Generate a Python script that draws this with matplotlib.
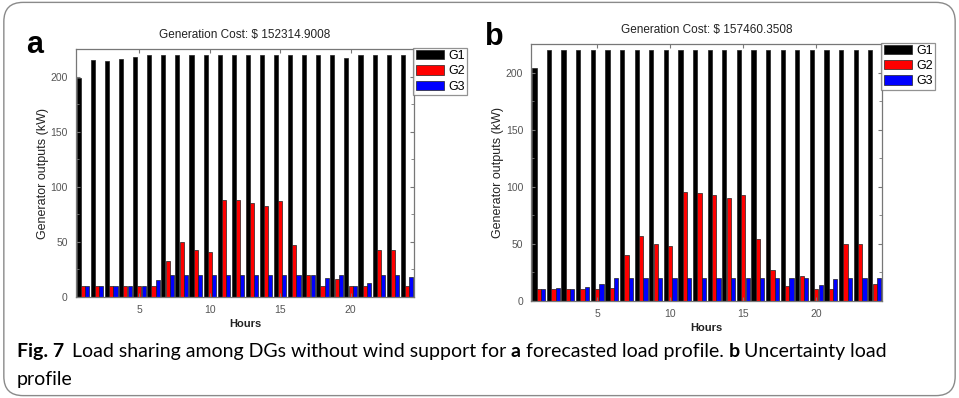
import numpy as np
import matplotlib
matplotlib.use("Agg")
import matplotlib.pyplot as plt
from matplotlib.patches import FancyBboxPatch
from matplotlib.text import Annotation
from matplotlib.ticker import MultipleLocator

hours = np.arange(1, 25)
labels = ["G1", "G2", "G3"]
colors = ["#000000", "#ff0000", "#0000ff"]

# panel a: forecasted load profile
a_g1 = [199, 215, 214, 216, 218, 220, 220, 220, 220, 220, 220, 220,
        220, 220, 220, 220, 220, 220, 220, 217, 220, 220, 220, 220]
a_g2 = [10, 10, 10, 10, 10, 10, 33, 50, 43, 41, 88, 88,
        85.5, 83, 87, 47, 20, 10, 16, 10, 10, 43, 43, 10]
a_g3 = [10, 10, 10, 10, 10, 15, 20, 20, 20, 20, 20, 20,
        20, 20, 20, 20, 20, 17, 20, 10, 13, 20, 20, 18]
a_cost = "152314.9008"

# panel b: uncertainty load profile
b_g1 = [204, 220, 220, 220, 220, 220, 220, 220, 220, 220, 220, 220,
        220, 220, 220, 220, 220, 220, 220, 220, 220, 220, 220, 220]
b_g2 = [10, 10, 10, 10, 10, 11, 40, 56.5, 50, 48, 95, 94.5,
        93, 90, 93, 54, 26.5, 13, 22, 10, 10, 49.5, 49.5, 15]
b_g3 = [10, 11, 10.5, 12, 14.5, 20, 20, 20, 20, 20, 20, 20,
        20, 20, 20, 20, 20, 20, 20, 13.5, 19, 20, 20, 20]
b_cost = "157460.3508"

plt.rcParams["font.family"] = "Liberation Sans"
fig = plt.figure(figsize=(9.59, 3.98), dpi=100)

# rounded frame around the whole figure
frame = FancyBboxPatch((0.004, 0.006), 0.992, 0.988, boxstyle="round,pad=0,rounding_size=0.02",
                       transform=fig.transFigure, fc="none", ec="#8a8a8a", lw=1.0,
                       mutation_aspect=959 / 398)
fig.patches.append(frame)


def panel(rect, series, cost, leg_xy, letter, letter_xy):
    ax = fig.add_axes(rect)
    w = 0.29
    for k, (vals, c, lab) in enumerate(zip(series, colors, labels)):
        ax.bar(hours + (k - 1) * 0.3, vals, width=w, color=c, edgecolor="#222222",
               linewidth=0.5, label=lab)
    ax.set_xlim(0.5, 24.5)
    ax.set_ylim(0, 225)
    ax.set_xticks([5, 10, 15, 20])
    ax.set_yticks([0, 50, 100, 150, 200])
    ax.yaxis.set_minor_locator(MultipleLocator(25))
    ax.tick_params(which="both", direction="in", top=True, right=True,
                   labelsize=7.5, labelcolor="#555555", color="#777777", length=3, pad=6)
    ax.tick_params(which="minor", length=2)
    for s in ax.spines.values():
        s.set_color("#777777")
        s.set_linewidth(0.9)
    ax.set_title("Generation Cost: $ " + cost, fontsize=8.5, pad=8, color="#222222")
    ax.set_xlabel("Hours", fontsize=8, labelpad=3, fontweight="bold", color="#222222")
    ax.set_ylabel("Generator outputs (kW)", fontsize=9, labelpad=1, color="#222222")
    leg = ax.legend(loc="upper left", bbox_to_anchor=leg_xy, bbox_transform=fig.transFigure,
                    fontsize=9, frameon=True, fancybox=False, handlelength=2.3,
                    handleheight=0.75, handletextpad=0.3, labelspacing=0.25,
                    borderpad=0.2, borderaxespad=0)
    leg.get_frame().set_edgecolor("#777777")
    leg.get_frame().set_linewidth(0.9)
    fig.text(letter_xy[0], letter_xy[1], letter, fontsize=22, fontweight="bold",
             ha="left", va="baseline")
    return ax


panel([0.0793, 0.2538, 0.3524, 0.6224], [a_g1, a_g2, a_g3], a_cost,
      (0.4307, 0.880), "a", (0.027, 0.868))
panel([0.5542, 0.2445, 0.3655, 0.6449], [b_g1, b_g2, b_g3], b_cost,
      (0.9187, 0.893), "b", (0.506, 0.887))

# caption: bold and regular pieces chained one after another
cap_font = "Lato"
cap_size = 14
pieces = [("Load sharing among DGs without wind support for", "normal", 5.5),
          ("a", "bold", 3.5), ("forecasted load profile.", "normal", 3.5),
          ("b", "bold", 3.5), ("Uncertainty load", "normal", 3.5)]
prev = fig.text(0.0177, 0.103, "Fig. 7", fontsize=cap_size, fontweight="bold",
                family=cap_font, va="baseline", ha="left")
for txt, weight, gap in pieces:
    prev = fig.add_artist(Annotation(
        txt, xy=(1, 0), xycoords=prev, xytext=(gap, 0), textcoords="offset points",
        fontsize=cap_size, fontweight=weight, family=cap_font, va="bottom", ha="left",
        annotation_clip=False))
fig.text(0.0177, 0.0327, "profile", fontsize=cap_size, family=cap_font,
         va="baseline", ha="left")

fig.savefig("out.png", dpi=100)
